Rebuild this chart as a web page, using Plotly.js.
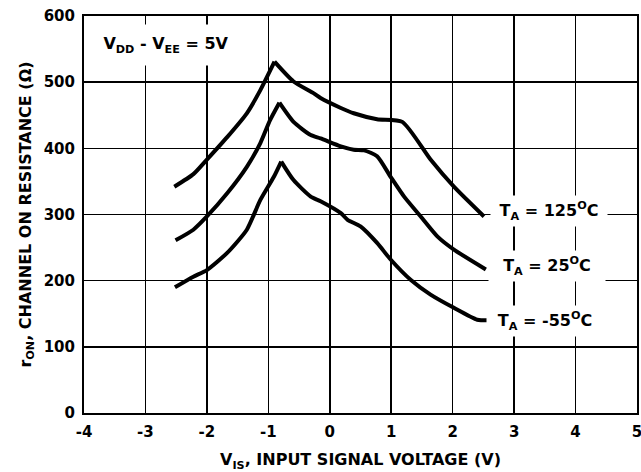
<!DOCTYPE html>
<html>
<head>
<meta charset="utf-8">
<script src="https://cdn.plot.ly/plotly-3.0.1.min.js"></script>
<style>html,body{margin:0;padding:0;background:#fff;}#chart{width:641px;height:472px;}</style>
</head>
<body>
<div id="chart"></div>
<script>
// T_A = 125 °C
const x125 = [-2.53, -2.22, -2.0, -1.67, -1.35, -1.13, -0.90, -0.59, -0.26, -0.15, 0.18, 0.39, 0.77, 1.18, 1.64, 2.02, 2.51];
const y125 = [342, 361, 383, 417, 453, 488, 531, 501, 483, 476, 461, 453, 444, 440, 383, 342, 297];
// T_A = 25 °C
const x25 = [-2.51, -2.22, -2.0, -1.67, -1.35, -1.13, -0.97, -0.82, -0.59, -0.31, -0.15, 0.18, 0.39, 0.56, 0.77, 0.99, 1.21, 1.48, 1.75, 2.02, 2.54];
const y25 = [261, 277, 297, 332, 372, 408, 443, 469, 440, 420, 415, 403, 398, 397, 388, 357, 327, 297, 267, 247, 217];
// T_A = -55 °C
const xm55 = [-2.52, -2.22, -2.0, -1.67, -1.35, -1.13, -0.91, -0.79, -0.59, -0.31, -0.15, 0.18, 0.29, 0.50, 0.77, 0.99, 1.32, 1.64, 2.02, 2.40, 2.57];
const ym55 = [190, 206, 216, 242, 277, 322, 357, 380, 352, 327, 320, 302, 292, 282, 257, 232, 201, 179, 159, 141, 140];

const xTicks = [-4, -3, -2, -1, 0, 1, 2, 3, 4, 5];
const yTicks = [0, 100, 200, 300, 400, 500, 600];

const seriesNames = ['T<sub>A</sub> = 125<sup>O</sup>C', 'T<sub>A</sub> = 25<sup>O</sup>C', 'T<sub>A</sub> = -55<sup>O</sup>C'];
const labelX = [3.57, 3.53, 3.50];
const labelY = [305, 222, 139];

const FONT = 'DejaVu Sans, Arial, sans-serif';
const lineStyle = {color: '#000', width: 4, shape: 'spline', smoothing: 0.6};

// split each curve at its peak so the peak stays sharp while the flanks are smooth
function halves(xs, ys) {
  let k = 0;
  ys.forEach((v, i) => { if (v > ys[k]) k = i; });
  return [
    {x: xs.slice(0, k + 1), y: ys.slice(0, k + 1), mode: 'lines', line: lineStyle, hoverinfo: 'skip'},
    {x: xs.slice(k), y: ys.slice(k), mode: 'lines', line: lineStyle, hoverinfo: 'skip'}
  ];
}

const traces = [].concat(halves(x125, y125), halves(x25, y25), halves(xm55, ym55));

const annotations = seriesNames.map((t, i) => ({
  x: labelX[i], y: labelY[i], xref: 'x', yref: 'y',
  text: '<b>' + t + '</b>', showarrow: false,
  font: {family: FONT, size: 16, color: '#000'},
  bgcolor: '#fff', width: 106, height: 20, borderpad: 5
}));
annotations.push({
  x: -2.67, y: 556, xref: 'x', yref: 'y',
  text: '<b>V<sub>DD</sub> - V<sub>EE</sub> = 5V</b>', showarrow: false,
  font: {family: FONT, size: 16, color: '#000'},
  bgcolor: '#fff', width: 140, height: 24, borderpad: 8
});

const layout = {
  width: 641, height: 472,
  margin: {l: 84, r: 4, t: 16, b: 59},
  paper_bgcolor: '#fff', plot_bgcolor: '#fff',
  showlegend: false,
  font: {family: FONT, color: '#000'},
  xaxis: {
    range: [-4, 5], tickvals: xTicks, ticktext: xTicks.map(v => '<b>' + v + '</b>'),
    showgrid: true, gridcolor: '#000', gridwidth: 1.5, zeroline: false,
    showline: true, linecolor: '#000', linewidth: 2, mirror: true,
    ticks: '', tickfont: {family: FONT, size: 15, color: '#000'}, ticklabelstandoff: 4,
    ticklabeloverflow: 'allow',
    title: {text: '<b>V<sub>IS</sub>, INPUT SIGNAL VOLTAGE (V)</b>', font: {family: FONT, size: 16, color: '#000'}, standoff: 14}
  },
  yaxis: {
    range: [0, 600], tickvals: yTicks, ticktext: yTicks.map(v => '<b>' + v + '</b>'),
    showgrid: true, gridcolor: '#000', gridwidth: 1.5, zeroline: false,
    showline: true, linecolor: '#000', linewidth: 2, mirror: true,
    ticks: '', tickfont: {family: FONT, size: 15, color: '#000'}, ticklabelstandoff: 4,
    title: {text: '<b>r<sub>ON</sub>, CHANNEL ON RESISTANCE (Ω)</b>', font: {family: FONT, size: 16, color: '#000'}, standoff: 8}
  },
  annotations: annotations
};

Plotly.newPlot('chart', traces, layout, {displayModeBar: false, staticPlot: true});
</script>
</body>
</html>
